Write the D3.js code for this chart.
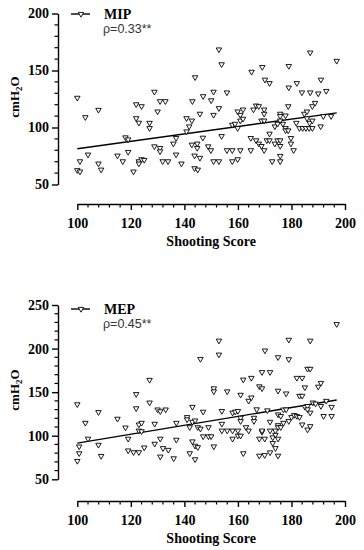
<!DOCTYPE html>
<html><head><meta charset="utf-8">
<script src="https://cdn.jsdelivr.net/npm/d3@7"></script>
<style>body{margin:0;background:#fff}svg{display:block}</style>
</head><body>
<script>
// ---- data ----
const xTicks = [100, 120, 140, 160, 180, 200];
const mipTicks = [50, 100, 150, 200];
const mepTicks = [50, 100, 150, 200, 250];
const mipLabel = "MIP", mipRho = "ρ=0.33**";
const mepLabel = "MEP", mepRho = "ρ=0.45**";
const xTitle = "Shooting Score";
const mipFit = [[100, 81.4], [196.9, 112.8]];
const mepFit = [[100, 91.5], [196.9, 141]];
const mipPoints = [
[100,126],[128.8,131.3],[152.9,168.4],[153.9,155.4],[144,144],[147,127.4],[150,123.8],[150.9,131.3],
[155.9,130.7],[143,123],[130.9,123],[132.9,123],[165.1,148.8],[169.1,153],[170.1,141.9],[171.8,138.9],
[179,153.9],[179,135],[182,138.9],[187,165.7],[183.9,130.7],[187,130.7],[190,129.8],[191,141.9],
[193,132],[196.9,158.4],[103,109],[107.9,115.4],[100,62.5],[101,61.3],[101,70.3],[104,76.2],
[107.9,68.3],[108.9,63],[115,75.3],[117,70.3],[118,91.3],[119,89.5],[119,78.5],[121,61.3],
[122,120.3],[124,118.6],[122,108.1],[123,104.1],[123,70.3],[124,72.1],[125,71.5],[123,68.3],
[127,104],[127,99.4],[128.8,83.4],[130,114],[130.9,82],[130.9,79],[131.9,70.3],[133.9,70.3],
[135.9,85.8],[136.9,90.7],[136.9,76.2],[138.9,68.3],[140.8,96.5],[140.8,108.1],[141.8,100.9],[142.8,106],
[142.8,84.9],[143.8,75.3],[143.8,64.2],[145,63],[144.8,85.8],[144.8,82],[145.8,73.3],[145.8,112],
[146.9,91],[148.9,83.4],[149.9,80],[150.9,111],[152.9,116.9],[150.9,70.3],[152.9,70.3],[153.9,92.4],
[155.9,80],[157.9,80],[160.9,80],[157.9,102.3],[158.9,103.2],[157.9,70.3],[159.9,72.1],[159.9,99.4],
[159.9,114],[160.9,111],[161.9,115.7],[160.9,106],[161.9,107.6],[164.8,80],[164.8,90.7],[166.8,88.7],
[165.8,115.7],[166.8,119.2],[167.8,118.6],[168.8,106],[169.8,106],[167.8,85.8],[168.8,83.7],[169.8,80],
[169.8,115.7],[169.8,112],[170.8,88.7],[171.8,88.7],[171.8,94.5],[172.8,70.3],[173.8,100.9],[173.8,85.8],
[174.8,103.2],[175.8,112],[175.8,110],[175.8,106],[176.8,103.2],[174.8,88.7],[175.8,88.7],[175.8,83.7],
[175.8,75],[175.8,70.3],[177.8,110.5],[177.8,99.4],[177.8,97.4],[178.8,97.4],[178.8,118.6],[179.8,90.7],
[179.8,85.8],[180.8,80],[181.8,104],[183,99.4],[184.2,99.4],[185.4,99.4],[186.6,99.4],[187.8,99.4],
[184.8,112],[185.8,114],[185.8,108],[186.8,104],[187.8,106],[187.8,118.6],[188.8,121.5],[190.9,100.9],
[191.9,109.9],[194.8,109.9]
];
const mepPoints = [
[196.9,228],[152.9,209],[152.9,193],[146,188],[179,210],[187,209],[170.1,197.7],[175,190],
[179,187.7],[186,176.7],[187,176.7],[100,136],[103,114.7],[104,96.5],[100.7,87.6],[100.7,79.8],
[100,71],[107.9,127],[107.9,89.5],[108.9,76.7],[115,119.4],[118,109.3],[119,96.5],[122,147.7],
[122,131.4],[123,112.8],[124,114.7],[123,105.8],[124,105],[119,83],[121,81],[123,81],
[125,86.4],[127,164],[127,138],[128.9,113.6],[128.9,90.7],[130,130],[131,128],[133,130],
[131,96.5],[132,85.7],[134,83.7],[131,76],[136,74],[137,114.7],[137,95.3],[141,121.3],
[141,118.6],[142,109.7],[143,133],[143,115.9],[144,117.4],[143,93.4],[144,88.4],[145,86.8],
[142,79.8],[144,72.9],[145,109.7],[146,108],[147,127.5],[147,99.2],[149,99.2],[150,99.2],
[149,109.7],[151,87.6],[151,154.3],[151,150.8],[154,113.6],[154,105.8],[154,128.3],[156,150.8],
[156,105.8],[158,126.4],[159,127.5],[160,128.3],[158,105.8],[160,105.8],[158,96.5],[160,100],
[161,100],[161,146.9],[161,120.5],[161,116.7],[162,79.8],[162,164.3],[164,140],[165,143.8],
[165,166.3],[163,109.7],[164,105.8],[166,120.5],[166,116.7],[167,130.2],[168,156.6],[169,154.3],
[168,96.5],[169,104.3],[170,96.5],[169,172.9],[169,105.8],[171,129],[172,172.9],[172,115.9],
[172,105.8],[173,98],[174,101],[174,105.8],[175,151.5],[178,148.4],[175,124.4],[176,122.5],
[175,112],[175,109.7],[176,109.7],[177,130],[178,130],[177,114.7],[179,116.7],[175,96.5],
[173,91.5],[174,85.7],[180,121.3],[181,123.6],[182,122.5],[183,121.3],[182,166.3],[184,166.3],
[183,145.7],[184,145.7],[185,155.4],[185,133],[186,134],[186,130.2],[187,126.4],[184,112.8],
[186,107],[187,110.9],[188,138],[189,136.8],[190,156.2],[191,160.5],[191,134],[192,122.5],
[193,139.9],[195,133],[195,122.5],[168,77],[170,77.7],[172,80.8],[175,77]
];

// ---- drawing ----
const W = 364, H = 550;
const svg = d3.select("body").append("svg").attr("width", W).attr("height", H);
const serif = "'Liberation Serif','Times New Roman',serif";
const sans = "'Liberation Sans',Arial,sans-serif";
const tri = d3.symbol().type(d3.symbolTriangle).size(13);

function panel(cfg) {
  const x = d3.scaleLinear().domain([100, 200]).range([77.3, 345]);
  const y = d3.scaleLinear().domain(cfg.yDomain).range(cfg.yRange);
  const g = svg.append("g");

  const yMinor = d3.range(cfg.yDomain[0], cfg.yDomain[1] + 0.1, 10).filter(v => v % 50 !== 0);
  const yAx = g.append("g").attr("transform", `translate(${cfg.yAxisX},0)`)
    .call(d3.axisLeft(y).tickValues(cfg.yTicks).tickSize(6).tickSizeOuter(0).tickPadding(3));
  yAx.append("g").selectAll("line").data(yMinor).join("line")
    .attr("x1", 0).attr("x2", -3.5).attr("y1", d => y(d)).attr("y2", d => y(d))
    .attr("stroke", "#000").attr("stroke-width", 1.2);
  const xMinor = d3.range(100, 200.1, 4).filter(v => v % 20 !== 0);
  const xAx = g.append("g").attr("transform", `translate(0,${cfg.xAxisY})`)
    .call(d3.axisBottom(x).tickValues(xTicks).tickSize(6).tickSizeOuter(0).tickPadding(8));
  xAx.append("g").selectAll("line").data(xMinor).join("line")
    .attr("y1", 0).attr("y2", 3.5).attr("x1", d => x(d)).attr("x2", d => x(d))
    .attr("stroke", "#000").attr("stroke-width", 1.2);
  [yAx, xAx].forEach(a => {
    a.select(".domain").attr("stroke", "#000").attr("stroke-width", 1.4);
    a.selectAll(".tick line").attr("stroke", "#000").attr("stroke-width", 1.4);
    a.selectAll(".tick text").attr("fill", "#000").attr("font-family", serif)
      .attr("font-weight", "bold").attr("font-size", 14);
  });

  g.append("text").attr("x", x(150)).attr("y", cfg.xAxisY + 42).attr("text-anchor", "middle")
    .attr("font-family", serif).attr("font-weight", "bold").attr("font-size", 14).text(xTitle);
  const yt = g.append("text").attr("transform", `translate(19,${cfg.yTitleY}) rotate(-90)`)
    .attr("text-anchor", "middle").attr("font-family", serif).attr("font-weight", "bold").attr("font-size", 13);
  yt.append("tspan").text("cmH");
  yt.append("tspan").attr("font-size", 9).attr("dy", 3).text("2");
  yt.append("tspan").attr("dy", -3).text("O");

  g.append("path").datum(cfg.fit)
    .attr("d", d3.line().x(d => x(d[0])).y(d => y(d[1])))
    .attr("stroke", "#000").attr("stroke-width", 1.4).attr("fill", "none");

  g.append("g").selectAll("path").data(cfg.points).join("path")
    .attr("d", tri)
    .attr("transform", d => `translate(${x(d[0])},${y(d[1])}) rotate(180)`)
    .attr("fill", "#fff").attr("stroke", "#000").attr("stroke-width", 0.9);

  const ly = cfg.legendY;
  g.append("line").attr("x1", 71).attr("x2", 90).attr("y1", ly).attr("y2", ly)
    .attr("stroke", "#000").attr("stroke-width", 1.4);
  g.append("path").attr("d", tri).attr("transform", `translate(81,${ly}) rotate(180)`)
    .attr("fill", "#fff").attr("stroke", "#000").attr("stroke-width", 0.9);
  g.append("text").attr("x", 104).attr("y", ly + 5).attr("font-family", serif)
    .attr("font-weight", "bold").attr("font-size", 14).text(cfg.label);
  g.append("text").attr("x", 103).attr("y", ly + 19).attr("font-family", sans)
    .attr("font-size", 12.5).attr("fill", "#333").text(cfg.rho);
}

panel({ yDomain: [50, 200], yRange: [184.5, 13.5], yTicks: mipTicks, yAxisX: 58, xAxisY: 204,
  yTitleY: 97, fit: mipFit, points: mipPoints, legendY: 14, label: mipLabel, rho: mipRho });
panel({ yDomain: [50, 250], yRange: [479.3, 305], yTicks: mepTicks, yAxisX: 58, xAxisY: 501,
  yTitleY: 390, fit: mepFit, points: mepPoints, legendY: 309, label: mepLabel, rho: mepRho });
</script>
</body></html>
